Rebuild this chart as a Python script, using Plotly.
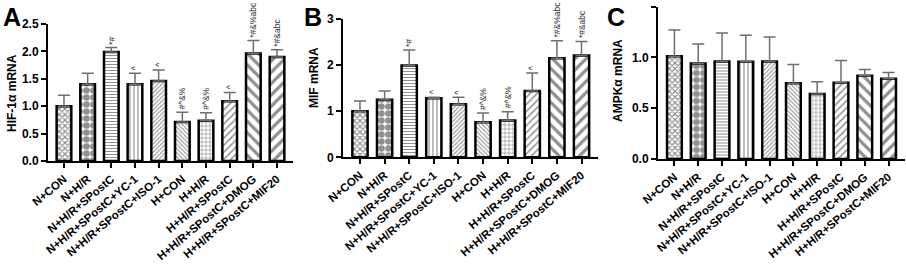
import plotly.graph_objects as go

categories = ["N+CON", "N+H/R", "N+H/R+SPostC", "N+H/R+SPostC+YC-1", "N+H/R+SPostC+ISO-1",
              "H+CON", "H+H/R", "H+H/R+SPostC", "H+H/R+SPostC+DMOG", "H+H/R+SPostC+MIF20"]

hif_mean = [1.00, 1.40, 1.99, 1.40, 1.46, 0.71, 0.735, 1.09, 1.96, 1.90]
hif_sd = [0.20, 0.20, 0.08, 0.20, 0.20, 0.18, 0.145, 0.16, 0.24, 0.13]
mif_mean = [1.00, 1.25, 1.99, 1.28, 1.15, 0.76, 0.80, 1.44, 2.15, 2.21]
mif_sd = [0.22, 0.19, 0.34, 0.02, 0.15, 0.20, 0.19, 0.39, 0.38, 0.30]
ampk_mean = [1.01, 0.94, 0.96, 0.957, 0.96, 0.745, 0.64, 0.75, 0.82, 0.79]
ampk_sd = [0.26, 0.19, 0.28, 0.26, 0.24, 0.185, 0.12, 0.22, 0.06, 0.06]

sig_hif = ["", "", "*#", "^", "^", "#^&%", "#^&%", "^", "*#&%abc", "*#&abc"]
sig_mif = ["", "", "*#", "^", "^", "#^&%", "#^&%", "^", "*#&%abc", "*#&abc"]
sig_ampk = [""] * 10

pat_shapes = ["x", ".", "-", "|", "/", "\\", "+", "/", "\\", "/"]
pat_sizes = [4, 7, 3, 4, 3, 3, 4, 5, 8, 8]
pat_solid = [0.5, 0.7, 0.35, 0.3, 0.35, 0.35, 0.3, 0.3, 0.4, 0.4]

W, H = 906, 264

panels = [
    dict(name="A", mean=hif_mean, sd=hif_sd, sig=sig_hif, title="HIF-1α mRNA",
         xpx=(48, 293), ypx=(161, 24), yr=[0, 2.5], dtick=0.5, fmt=".1f",
         xr=[-0.675, 9.675], letter_x=1, title_xy=(12, 93)),
    dict(name="B", mean=mif_mean, sd=mif_sd, sig=sig_mif, title="MIF mRNA",
         xpx=(343, 598), ypx=(157.3, 19), yr=[0, 3], dtick=1, fmt="d",
         xr=[-0.69, 9.67], letter_x=302, title_xy=(314, 78)),
    dict(name="C", mean=ampk_mean, sd=ampk_sd, sig=sig_ampk, title="AMPKα mRNA",
         xpx=(658, 905), ypx=(159, 6.5), yr=[0, 1.5], dtick=0.5, fmt=".1f",
         xr=[-0.69, 9.69], letter_x=605, title_xy=(618, 81)),
]

fig = go.Figure()
annotations = []
bold = dict(family="Liberation Sans, Arial", color="black", weight="bold")

for i, p in enumerate(panels):
    sfx = "" if i == 0 else str(i + 1)
    xa, ya = "x" + sfx, "y" + sfx
    fig.add_trace(go.Bar(
        x=categories, y=p["mean"], xaxis=xa, yaxis=ya, width=0.62,
        marker=dict(color="white", line=dict(color="black", width=2.5),
                    pattern=dict(shape=pat_shapes, size=pat_sizes, solidity=pat_solid,
                                 fgcolor="#222222", bgcolor="white", fillmode="overlay")),
        error_y=dict(type="data", array=p["sd"], arrayminus=[0] * 10, symmetric=False,
                     color="#6e6e6e", thickness=1.5, width=6),
        showlegend=False, hoverinfo="skip",
    ))
    x0, x1 = p["xpx"]
    yb, yt = p["ypx"]
    fig.layout["xaxis" + sfx] = dict(
        domain=[x0 / W, x1 / W], anchor=ya, range=p["xr"], type="category",
        showline=True, linecolor="black", linewidth=2, ticks="outside", ticklen=5,
        tickwidth=1.5, tickcolor="black", tickangle=-40, automargin=False,
        tickfont=dict(size=11.5, **bold), showgrid=False, zeroline=False)
    fig.layout["yaxis" + sfx] = dict(
        domain=[1 - yb / H, 1 - yt / H], anchor=xa, range=p["yr"], dtick=p["dtick"],
        tickformat=p["fmt"], showline=True, linecolor="black", linewidth=2,
        ticks="outside", ticklen=5, tickwidth=1.5, tickcolor="black", automargin=False,
        tickfont=dict(size=12, **bold), showgrid=False, zeroline=False)
    annotations.append(dict(text=p["name"], x=p["letter_x"] / W, y=1 - 1 / H,
                            xref="paper", yref="paper", xanchor="left", yanchor="top",
                            showarrow=False, font=dict(size=25, **bold)))
    tx, ty = p["title_xy"]
    annotations.append(dict(text=p["title"], x=tx / W, y=1 - ty / H,
                            xref="paper", yref="paper", xanchor="center", yanchor="middle",
                            textangle=-90, showarrow=False, font=dict(size=12, **bold)))
    for c, m, s, t in zip(categories, p["mean"], p["sd"], p["sig"]):
        if t:
            annotations.append(dict(text=t, x=c, y=m + s, xref=xa, yref=ya,
                                    xanchor="center", yanchor="bottom", yshift=1,
                                    textangle=-90, showarrow=False,
                                    font=dict(size=8.5, color="#333333",
                                              family="Liberation Sans, Arial")))

fig.update_layout(width=W, height=H, autosize=False, margin=dict(l=0, r=0, t=0, b=0),
                  plot_bgcolor="white", paper_bgcolor="white", annotations=annotations,
                  bargap=0.3)
fig.write_html("out.html", config={"displayModeBar": False},
               post_script="document.body.style.margin='0px';")
